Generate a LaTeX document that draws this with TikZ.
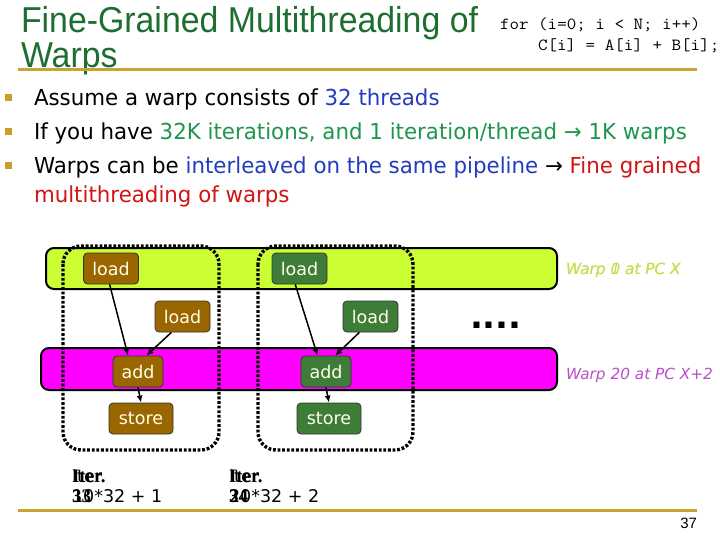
\documentclass[tikz,border=0pt]{standalone}
\usepackage{fontspec}
\setmainfont{DejaVu Sans}
\newfontfamily\titlefont{Liberation Sans}[FakeStretch=0.94]
\newfontfamily\bulfont{DejaVu Sans}[FakeStretch=0.97]
\newfontfamily\serfont{Liberation Serif}
\newfontfamily\numfont{Liberation Sans}
\newcommand\codeline[1]{\scalebox{1.09}[1]{\ttfamily\fontsize{17}{18}\selectfont #1}}
\usetikzlibrary{arrows.meta}
\definecolor{titlegreen}{RGB}{30,110,50}
\definecolor{gold}{RGB}{200,165,50}
\definecolor{bulletgold}{RGB}{200,160,40}
\definecolor{tblue}{RGB}{35,60,190}
\definecolor{tgreen}{RGB}{30,150,80}
\definecolor{tred}{RGB}{210,20,20}
\definecolor{barY}{RGB}{204,255,51}
\definecolor{barM}{RGB}{255,0,255}
\definecolor{boxbrown}{RGB}{153,102,0}
\definecolor{boxgreen}{RGB}{62,125,55}
\definecolor{cream}{RGB}{255,255,235}
\definecolor{warpY}{RGB}{200,220,80}
\definecolor{warpM}{RGB}{185,80,200}
\begin{document}
\begin{tikzpicture}[x=1pt,y=-1pt,
  txt/.style={inner sep=0pt, outer sep=0pt, anchor=base west},
  bar/.style={draw=black, line width=2pt, rounded corners=8pt},
  opbox/.style={draw=black!80, line width=0.8pt, rounded corners=4pt, text=cream,
     inner sep=0pt, minimum height=31pt, font=\fontsize{17.5}{20}\selectfont},
  brownop/.style={opbox, fill=boxbrown},
  greenop/.style={opbox, fill=boxgreen},
  dotline/.style={line width=3.4pt, dash pattern=on 2.8pt off 1.8pt, rounded corners=18pt},
  flow/.style={line width=1.5pt, -{Latex[length=7pt,width=6pt]}},
  goldline/.style={draw=gold, line width=3pt},
  bul/.style={fill=bulletgold},
  bultext/.style={txt, font=\bulfont\fontsize{22}{26}\selectfont},
  itertext/.style={txt, font=\fontsize{17.5}{20}\selectfont}
]
\useasboundingbox[fill=white] (0,0) rectangle (720,540);

% title
\node[txt, text=titlegreen, font=\titlefont\fontsize{36}{40}\selectfont] (t1) at (21,33) {Fine-Grained Multithreading of};
\node[txt, text=titlegreen, font=\titlefont\fontsize{36}{40}\selectfont] (t2) at (21,68) {Warps};
\node[txt] (c1) at (500,30) {\codeline{for (i=0; i < N; i++)}};
\node[txt] (c2) at (538,51) {\codeline{C[i] = A[i] + B[i];}};
\draw[goldline] (18,70) -- (697,70);

% bullets
\fill[bul] (5,94) rectangle (12,101);
\fill[bul] (5,128) rectangle (12,135);
\fill[bul] (5,162) rectangle (12,169);
\node[bultext] (b1) at (34,106) {Assume a warp consists of \textcolor{tblue}{32 threads}};
\node[bultext] (b2) at (34,140) {If you have \textcolor{tgreen}{32K iterations, and 1 iteration/thread → 1K warps}};
\node[bultext] (b3) at (34,174) {Warps can be \textcolor{tblue}{interleaved on the same pipeline} → \textcolor{tred}{Fine grained}};
\node[bultext, text=tred] (b4) at (34,203) {multithreading of warps};

% pipeline bars
\draw[bar, fill=barY] (46,248) rectangle (557,289);
\draw[bar, fill=barM] (41,348) rectangle (557,390);

% dotted thread outlines
\draw[dotline] (63,246) rectangle (219,450);
\draw[dotline] (258,246) rectangle (413,450);

% operation boxes
\node[brownop, minimum width=55pt] (bl1) at (111,268.5) {load};
\node[brownop, minimum width=55pt] (bl2) at (182.5,316.5) {load};
\node[brownop, minimum width=50pt] (ba) at (138,371.5) {add};
\node[brownop, minimum width=64pt] (bs) at (141,418.5) {store};
\node[greenop, minimum width=55pt] (gl1) at (299.5,268.5) {load};
\node[greenop, minimum width=55pt] (gl2) at (370.5,316.5) {load};
\node[greenop, minimum width=50pt] (ga) at (326,371.5) {add};
\node[greenop, minimum width=64pt] (gs) at (329,418.5) {store};

% arrows
\draw[flow] (bl1.265) -- (ba.122);
\draw[flow] (bl2.235) -- (ba.62);
\draw[flow] (ba.south) -- (bs.north);
\draw[flow] (gl1.255) -- (ga.118);
\draw[flow] (gl2.235) -- (ga.60);
\draw[flow] (ga.south) -- (gs.north);

% dots
\node[txt, font=\bfseries\fontsize{34}{34}\selectfont] (dots) at (470,328) {....};

% warp labels
\node[txt, text=warpY, font=\itshape\fontsize{15.3}{18}\selectfont] (w0) at (566,274) {Warp 0 at PC X};
\node[txt, text=warpY, font=\itshape\fontsize{15.3}{18}\selectfont] (w1) at (566,274) {Warp 1 at PC X};
\node[txt, text=warpM, font=\itshape\fontsize{15.3}{18}\selectfont] (w20) at (566,379) {Warp 20 at PC X+2};

% iteration labels
\node[itertext] (i1a) at (72,482) {Iter.};
\node[itertext, font=\serfont\bfseries\fontsize{19}{20}\selectfont] (i1b) at (72,482) {Iter.};
\node[itertext] (n1a) at (72,502) {10*32 + 1};
\node[itertext, font=\serfont\bfseries\fontsize{19}{20}\selectfont] (n1b) at (72,502) {33};
\node[itertext] (i2a) at (229,482) {Iter.};
\node[itertext, font=\serfont\bfseries\fontsize{19}{20}\selectfont] (i2b) at (229,482) {Iter.};
\node[itertext] (n2a) at (229,502) {20*32 + 2};
\node[itertext, font=\serfont\bfseries\fontsize{19}{20}\selectfont] (n2b) at (229,502) {34};

% footer
\draw[goldline] (18,510) -- (697,510);
\node[txt, anchor=base east, font=\numfont\fontsize{15}{18}\selectfont] (pg) at (697,528) {37};
\end{tikzpicture}
\end{document}
